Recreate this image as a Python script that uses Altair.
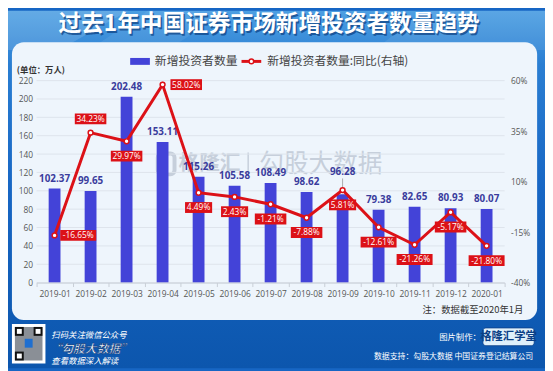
import json
import altair as alt
import pandas as pd

# ---------------- data ----------------
months = ["2019-01", "2019-02", "2019-03", "2019-04", "2019-05", "2019-06", "2019-07",
          "2019-08", "2019-09", "2019-10", "2019-11", "2019-12", "2020-01"]
new_investors = [102.37, 99.65, 202.48, 153.11, 115.26, 105.58, 108.49,
                 98.62, 96.28, 79.38, 82.65, 80.93, 80.07]
yoy_pct = [-16.65, 34.23, 29.97, 58.02, 4.49, 2.43, -1.21,
           -7.88, 5.81, -12.61, -21.26, -5.17, -21.80]
yoy_label_side = ["right", "above", "below", "right", "below", "below", "below",
                  "below", "below", "below", "below", "below", "below"]
bar_label_lifted = ["2019-09"]
left_ticks = [0, 20, 40, 60, 80, 100, 120, 140, 160, 180, 200, 220]
right_ticks = [-40, -15, 10, 35, 60]

title_text = "过去1年中国证券市场新增投资者数量趋势"
unit_text = "(单位：万人)"
legend_bar = "新增投资者数量"
legend_line = "新增投资者数量:同比(右轴)"
note_text = "注：数据截至2020年1月"
watermark_a = "格隆汇"
watermark_b = "勾股大数据"
footer_left = ["扫码关注微信公众号", "“勾股大数据”", "查看数据深入解读"]
footer_made = "图片制作："
badge_text = "格隆汇学堂"
footer_source = "数据支持：勾股大数据  中国证券登记结算公司"

# ---------------- style ----------------
BAR = "#4343d8"
RED = "#dc1117"
NUM_BLUE = "#3a3c9c"
AXIS_TXT = "#555555"
CJK = "Noto Sans CJK SC"
NUM = "Open Sans"

W, H = 475, 205
OX, OY = 37, 79  # page position of plot origin


def px(x):
    return x - OX


def py(y):
    return y - OY


df = pd.DataFrame({
    "month": months,
    "investors": new_investors,
    "yoy": yoy_pct,
    "side": yoy_label_side,
})
df["inv_label"] = [f"{v:.2f}" for v in new_investors]
df["yoy_label"] = [f"{v:.2f}%" for v in yoy_pct]

one = pd.DataFrame({"k": [0]})
base = alt.Chart(df)

x_enc = alt.X(
    "month:N", sort=months,
    scale=alt.Scale(paddingInner=0, paddingOuter=0),
    axis=alt.Axis(title=None, labelAngle=0, labelFont=NUM, labelFontSize=8.5,
                  labelColor=AXIS_TXT, tickBand="extent", tickSize=4,
                  tickColor="#c8ced6", domainColor="#c8ced6", labelPadding=3, zindex=1),
)

yl_scale = alt.Scale(domain=[0, 220], nice=False, zero=True)
yl_axis = alt.Axis(title=None, values=left_ticks, grid=False, ticks=False, domain=False,
                   labelFont=NUM, labelFontSize=8.5, labelColor=AXIS_TXT, labelPadding=4,
                   zindex=1)
yr_scale = alt.Scale(domain=[-40, 60], nice=False, zero=False)
yr_axis = alt.Axis(title=None, orient="right", values=right_ticks,
                   labelExpr="datum.value + '%'", grid=False, ticks=False, domain=False,
                   labelFont=NUM, labelFontSize=8.5, labelColor=AXIS_TXT, labelPadding=6,
                   zindex=1)


def yl(field):
    return alt.Y(field, scale=yl_scale, axis=yl_axis)


def yr(field):
    return alt.Y(field, scale=yr_scale, axis=yr_axis)


def text_at(t, x, y, **kw):
    return alt.Chart(one).mark_text(text=t, **kw).encode(x=alt.value(x), y=alt.value(y))


def rect_at(x1, y1, x2, y2, **kw):
    return alt.Chart(one).mark_rect(**kw).encode(
        x=alt.value(x1), x2=alt.value(x2), y=alt.value(y1), y2=alt.value(y2))


def shape_at(path, **kw):
    # path given in page pixels, drawn at scale 1 (size=4)
    return alt.Chart(one).mark_point(shape=path, size=4, filled=True, strokeWidth=0,
                                     **kw).encode(x=alt.value(px(0)), y=alt.value(py(0)))


# ---------------- background decorations ----------------
bg_grad = alt.Gradient(
    gradient="linear", x1=0, y1=0, x2=0, y2=1,
    stops=[alt.GradientStop(color="#4d9fe2", offset=0),
           alt.GradientStop(color="#2a7ed2", offset=0.15),
           alt.GradientStop(color="#1766c4", offset=0.5),
           alt.GradientStop(color="#0c56ad", offset=1)])
deco_back = [
    rect_at(px(8), py(8), px(553), py(371), fill=bg_grad),
    shape_at("M8,8L130,8L60,48L8,48Z", fill="white", opacity=0.13),
    shape_at("M150,8L230,8L170,48L90,48Z", fill="white", opacity=0.07),
    shape_at("M430,8L553,8L553,48L380,48Z", fill="white", opacity=0.08),
    rect_at(px(12), py(40), px(545), py(322), fill="#eef5fc", cornerRadius=12),
    text_at(title_text, px(274.5), py(24), font=CJK, fontSize=23, fontWeight="bold",
            color="#0d3f80", opacity=0.7, align="center", baseline="middle"),
    text_at(title_text, px(273), py(22), font=CJK, fontSize=23, fontWeight="bold",
            color="white", align="center", baseline="middle"),
    # watermark
    rect_at(px(160), py(153), px(177), py(174), fill="transparent", stroke="#c6cfdb",
            strokeWidth=4, cornerRadius=4),
    text_at(watermark_a, px(181), py(164), font=CJK, fontSize=21, fontWeight="bold",
            color="#c6cfdb", align="left", baseline="middle"),
    rect_at(px(251), py(152), px(252.5), py(176), fill="#c6cfdb"),
    text_at(watermark_b, px(263), py(164), font=CJK, fontSize=25,
            color="#c6cfdb", align="left", baseline="middle"),
    # unit label
    text_at(unit_text, px(17), py(68), font=CJK, fontSize=8.5, fontWeight="bold",
            color="#333333", align="left", baseline="middle"),
]

# ---------------- left axis group ----------------
grid = alt.Chart(pd.DataFrame({"tick": left_ticks})).mark_rule(
    color="#dde4ec", strokeWidth=1).encode(y=yl("tick:Q"))
bars = base.mark_bar(size=12, color=BAR).encode(x=x_enc, y=yl("investors:Q"))
lift_list = json.dumps(bar_label_lifted)
bar_text = base.transform_filter(f"indexof({lift_list}, datum.month) < 0").mark_text(
    dy=-10, font=NUM, fontSize=10, fontWeight="bold", color=NUM_BLUE, baseline="middle"
).encode(x=x_enc, y=yl("investors:Q"), text="inv_label:N")
bar_text_lift = base.transform_filter(f"indexof({lift_list}, datum.month) >= 0").mark_text(
    dy=-23, font=NUM, fontSize=10, fontWeight="bold", color=NUM_BLUE, baseline="middle"
).encode(x=x_enc, y=yl("investors:Q"), text="inv_label:N")
lead_rule = base.transform_filter(f"indexof({lift_list}, datum.month) >= 0").mark_rule(
    color="#999999", strokeWidth=0.8, yOffset=-5, y2Offset=-16
).encode(x=x_enc, y=yl("investors:Q"), y2="investors:Q")
left_group = alt.layer(grid, bars, bar_text, bar_text_lift, lead_rule)

# ---------------- right axis group ----------------
line = base.mark_line(color=RED, strokeWidth=3).encode(x=x_enc, y=yr("yoy:Q"))
pts = base.mark_circle(fill="white", stroke=RED, strokeWidth=1.5, size=24, opacity=1).encode(
    x=x_enc, y=yr("yoy:Q"))

box_w = "(length(datum.yoy_label) * 4.5 + 5) / 2"
box_expr = (f"'M' + (-{box_w}) + ',-5.5H' + ({box_w}) + 'V5.5H' + (-{box_w}) + 'Z'")
side_offsets = {"right": (24, 0), "above": (0, -14), "below": (0, 15)}
label_layers = []
for side, (dx, dy) in side_offsets.items():
    sub = base.transform_filter(alt.datum.side == side)
    label_layers.append(
        sub.transform_calculate(box=box_expr).mark_point(
            filled=True, fill=RED, size=4, opacity=1, strokeWidth=0,
            xOffset=dx, yOffset=dy
        ).encode(x=x_enc, y=yr("yoy:Q"), shape=alt.Shape("box:N", scale=None, legend=None))
    )
    label_layers.append(
        sub.mark_text(dx=dx, dy=dy, font=NUM, fontSize=8.5, color="white",
                      baseline="middle", align="center"
                      ).encode(x=x_enc, y=yr("yoy:Q"), text="yoy_label:N")
    )
right_group = alt.layer(line, pts, *label_layers)

# ---------------- legend, note, footer ----------------
deco_front = [
    rect_at(px(132), py(56), px(152), py(63), fill=BAR),
    text_at(legend_bar, px(157), py(59.5), font=CJK, fontSize=12, color="#444444",
            align="left", baseline="middle"),
    alt.Chart(one).mark_rule(color=RED, strokeWidth=3).encode(
        x=alt.value(px(245)), x2=alt.value(px(265)), y=alt.value(py(59.5))),
    alt.Chart(one).mark_circle(fill="white", stroke=RED, strokeWidth=1.5, size=22, opacity=1).encode(
        x=alt.value(px(255)), y=alt.value(py(59.5))),
    text_at(legend_line, px(271), py(59.5), font=CJK, fontSize=12, color="#444444",
            align="left", baseline="middle"),
    text_at(note_text, px(531), py(312), font=CJK, fontSize=9.5, color="#333333",
            align="right", baseline="middle"),
    # QR code
    rect_at(px(12), py(326), px(46), py(366), fill="white"),
    rect_at(px(15), py(329), px(43), py(363), fill="#8a8f96"),
    rect_at(px(15), py(329), px(24), py(338), fill="#111111"),
    rect_at(px(17), py(331), px(22), py(336), fill="white"),
    rect_at(px(34), py(329), px(43), py(338), fill="#111111"),
    rect_at(px(36), py(331), px(41), py(336), fill="white"),
    rect_at(px(15), py(354), px(24), py(363), fill="#111111"),
    rect_at(px(17), py(356), px(22), py(361), fill="white"),
    rect_at(px(25), py(341), px(33), py(350), fill="#1f6fd0"),
    text_at(footer_left[0], px(52), py(337), font=CJK, fontSize=8.5, fontStyle="italic",
            color="white", align="left", baseline="middle"),
    text_at(footer_left[1], px(50), py(351), font=CJK, fontSize=12, fontWeight="bold",
            fontStyle="italic", color="white", stroke="#0b3f86", strokeWidth=0.6,
            align="left", baseline="middle"),
    text_at(footer_left[2], px(52), py(364), font=CJK, fontSize=8.5, fontStyle="italic",
            color="white", align="left", baseline="middle"),
    text_at(footer_made, px(488), py(339), font=CJK, fontSize=8.5, color="white",
            align="right", baseline="middle"),
    rect_at(px(490), py(330), px(542), py(348), fill="#dff0fb", cornerRadius=3,
            stroke="#0b3f86", strokeWidth=0.8),
    text_at(badge_text, px(516), py(339), font=CJK, fontSize=11.5, fontWeight="bold",
            color="#0b3f86", align="center", baseline="middle"),
    text_at(footer_source, px(541), py(360), font=CJK, fontSize=8, color="white",
            align="right", baseline="middle"),
]

chart = alt.layer(*deco_back, left_group, right_group, *deco_front).resolve_scale(
    y="independent"
).properties(
    width=W, height=H,
    padding={"left": 29, "top": 71, "right": 41, "bottom": 87},
    autosize=alt.AutoSizeParams(type="none"),
    background="#1766c4",
).configure_view(stroke="transparent")

chart.save("out.html", embed_options={"renderer": "svg", "actions": False})
